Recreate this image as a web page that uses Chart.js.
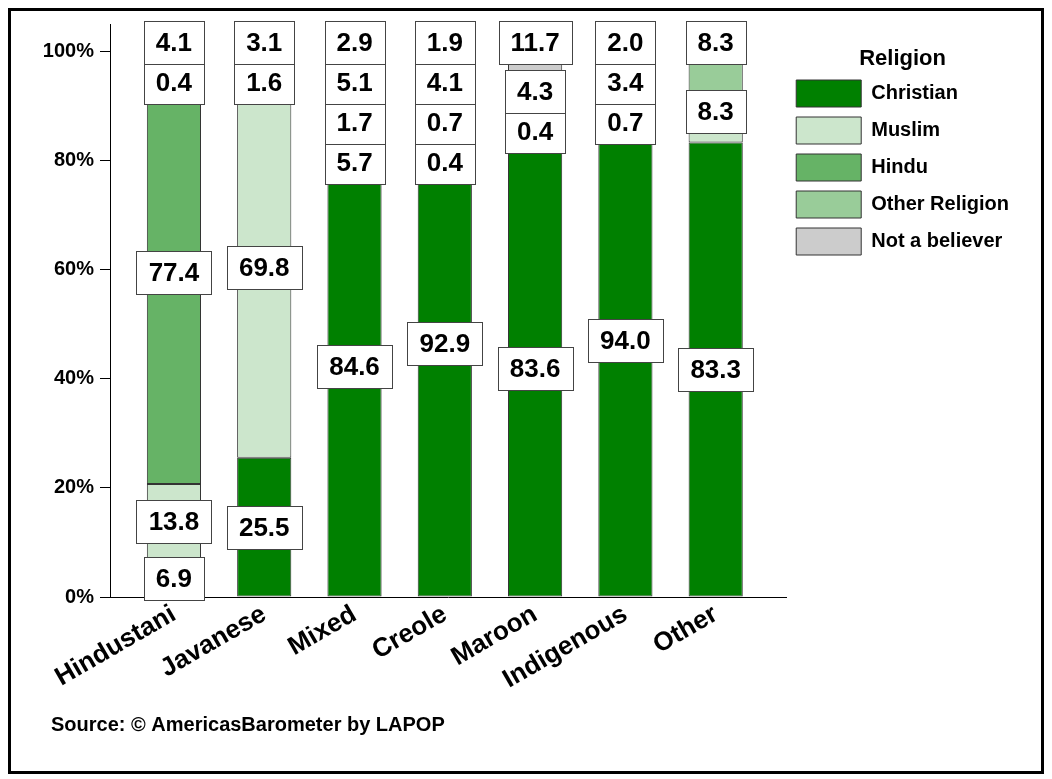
<!DOCTYPE html>
<html>
<head>
<meta charset="utf-8">
<script src="https://cdn.jsdelivr.net/npm/chart.js@4.4.1/dist/chart.umd.min.js"></script>
<style>
  html, body { margin: 0; padding: 0; background: #fff; }
  #wrap { position: relative; width: 1052px; height: 779px; }
  #frame { position: absolute; left: 8px; top: 8px; width: 1030px; height: 760px; border: 3px solid #000; pointer-events: none; }
  canvas { position: absolute; left: 0; top: 0; }
</style>
</head>
<body>
<div id="wrap">
  <canvas id="c" width="1052" height="779"></canvas>
  <div id="frame"></div>
</div>
<script>
const categories = ['Hindustani', 'Javanese', 'Mixed', 'Creole', 'Maroon', 'Indigenous', 'Other'];
const seriesNames = ['Christian', 'Muslim', 'Hindu', 'Other Religion', 'Not a believer'];
const christian   = [6.9, 25.5, 84.6, 92.9, 83.6, 94.0, 83.3];
const muslim      = [13.8, 69.8, 5.7, 0.4, 0.4, 0.7, 8.3];
const hindu       = [77.4, 0, 1.7, 0.7, 0, 0, 0];
const otherRel    = [0.4, 1.6, 5.1, 4.1, 4.3, 3.4, 8.3];
const notBeliever = [4.1, 3.1, 2.9, 1.9, 11.7, 2.0, 0];
const yTicks = [0, 20, 40, 60, 80, 100];
const colors = ['#008000', '#cce6cc', '#66b366', '#99cc99', '#cccccc'];
const sourceText = '\u2002Source: \u00A9 AmericasBarometer by LAPOP';

const FONT = '"Liberation Sans", Arial, sans-serif';
const seriesValues = [christian, muslim, hindu, otherRel, notBeliever];

const datasets = seriesValues.map((vals, d) => ({
  label: seriesNames[d],
  data: vals.map((v, i) => ({ x: i, y: v })),
  backgroundColor: colors[d],
  borderColor: '#333333',
  borderWidth: 1,
  borderSkipped: false,
  barPercentage: 0.6,
  categoryPercentage: 1.0
}));

const labelPlugin = {
  id: 'segLabels',
  afterDatasetsDraw(chart) {
    const { ctx, chartArea, scales: { x, y } } = chart;
    const H = 43, GAP = 40, BIAS = 8;
    ctx.save();
    ctx.font = 'bold 26px ' + FONT;
    categories.forEach((cat, i) => {
      const items = [];
      let base = 0;
      chart.data.datasets.forEach((ds, d) => {
        const v = ds.data[i].y;
        if (v > 0) items.push({ d, v, mid: base + v / 2 });
        base += v;
      });
      items.sort((a, b) => b.mid - a.mid);
      items.forEach(it => {
        it.ideal = y.getPixelForValue(it.mid);
        it.small = it.v < 20 && it.mid > 75;
      });
      // bottom-up pass for the crowded top group
      let below = Infinity;
      for (let k = items.length - 1; k >= 0; k--) {
        const it = items[k];
        if (it.small) {
          it.b = Math.min(it.ideal - BIAS, below - GAP);
          below = it.b;
        } else {
          it.b = it.ideal;
        }
      }
      // top-down pass
      let prev = null;
      items.forEach((it, k) => {
        let c;
        if (k === 0 && it.small) c = chartArea.top - 3 + H / 2;
        else if (it.small) c = Math.max(it.b, prev + GAP);
        else c = prev === null ? it.ideal : Math.max(it.ideal, prev + H);
        it.c = c; prev = c;
      });
      const cx = x.getPixelForValue(i);
      items.sort((a, b) => a.d - b.d).forEach(it => {
        const txt = it.v.toFixed(1);
        const w = Math.round(ctx.measureText(txt).width + 24);
        const left = Math.round(cx - w / 2) + 0.5;
        const top = Math.round(it.c - H / 2) + 0.5;
        ctx.fillStyle = '#ffffff';
        ctx.fillRect(left, top, w, H);
        ctx.strokeStyle = '#444444';
        ctx.lineWidth = 1;
        ctx.strokeRect(left, top, w, H);
        ctx.fillStyle = '#000000';
        ctx.textAlign = 'center';
        ctx.textBaseline = 'middle';
        ctx.fillText(txt, cx, top + H / 2 + 1);
      });
    });
    ctx.restore();
  }
};

new Chart(document.getElementById('c'), {
  type: 'bar',
  data: { datasets },
  plugins: [labelPlugin],
  options: {
    responsive: false,
    animation: false,
    devicePixelRatio: 1,
    layout: { padding: { left: 41, right: 33, top: 24, bottom: 42 } },
    plugins: {
      tooltip: { enabled: false },
      legend: {
        position: 'right',
        align: 'start',
        title: {
          display: true,
          text: 'Religion',
          color: '#000',
          font: { family: FONT, size: 22, weight: 'bold', lineHeight: 1 },
          padding: { top: 24, bottom: 0 }
        },
        labels: {
          boxWidth: 65,
          boxHeight: 27,
          padding: 10,
          color: '#000',
          font: { family: FONT, size: 20, weight: 'bold' }
        }
      },
      title: {
        display: true,
        position: 'bottom',
        align: 'start',
        text: sourceText,
        color: '#000',
        font: { family: FONT, size: 20, weight: 'bold', lineHeight: 1.2 },
        padding: { top: 0, bottom: 0 }
      }
    },
    scales: {
      x: {
        type: 'linear',
        stacked: true,
        offset: false,
        min: -0.708,
        max: 6.781,
        grid: { display: false, drawTicks: false, offset: false },
        border: { display: true, color: '#000', width: 1 },
        afterFit(scale) { scale.height = 116; },
        afterBuildTicks(scale) { scale.ticks = categories.map((c, i) => ({ value: i })); },
        ticks: {
          autoSkip: false,
          minRotation: 30,
          maxRotation: 30,
          padding: 2,
          color: '#000',
          font: { family: FONT, size: 26, weight: 'bold' },
          callback: (v) => categories[v] !== undefined ? categories[v] : ''
        }
      },
      y: {
        stacked: true,
        min: 0,
        max: 105,
        grid: { display: true, drawOnChartArea: false, drawTicks: true, tickLength: 10, color: '#000' },
        border: { display: true, color: '#000', width: 1 },
        afterFit(scale) { scale.width = 69; },
        afterBuildTicks(scale) { scale.ticks = yTicks.map(v => ({ value: v })); },
        ticks: {
          padding: 6,
          color: '#000',
          font: { family: FONT, size: 20, weight: 'bold' },
          callback: (v) => v + '%'
        }
      }
    }
  }
});
</script>
</body>
</html>
